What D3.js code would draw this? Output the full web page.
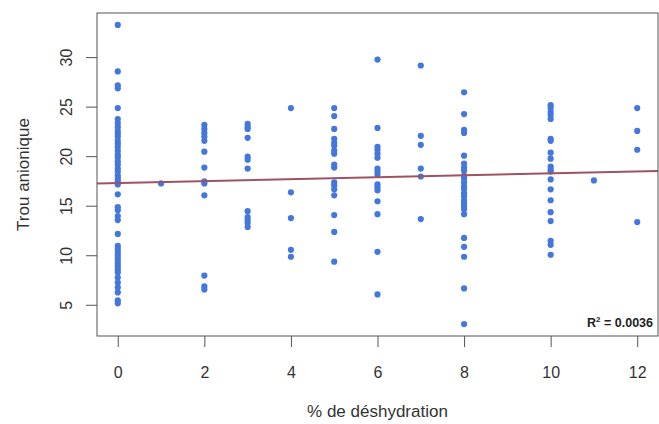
<!DOCTYPE html>
<html>
<head>
<meta charset="utf-8">
<script src="https://cdn.jsdelivr.net/npm/d3@7/dist/d3.min.js"></script>
<style>
  html, body { margin: 0; padding: 0; background: #fff; }
  svg { display: block; font-family: "Liberation Sans", Arial, sans-serif; }
</style>
</head>
<body>
<svg id="chart" width="659" height="424"></svg>
<script>
// ---- Data ----
const dehydrationLevels = [0, 1, 2, 3, 4, 5, 6, 7, 8, 10, 11, 12];
const anionGap_0 = [33.3, 28.6, 27.2, 26.9, 24.9, 23.8, 23.4, 23.0, 22.6, 22.3, 22.0, 21.6, 21.3, 21.0, 20.6, 20.2, 19.9, 19.5, 19.2, 18.8, 18.5, 18.1, 17.8, 17.5, 17.2, 16.2, 14.9, 14.6, 14.0, 13.6, 12.2, 11.0, 10.7, 10.4, 10.1, 9.8, 9.5, 9.2, 8.9, 8.6, 8.3, 7.8, 7.3, 6.8, 6.3, 5.5, 5.2];
const anionGap_1 = [17.3];
const anionGap_2 = [23.2, 22.8, 22.4, 22.0, 21.6, 20.5, 18.9, 17.5, 17.3, 16.1, 8.0, 6.9, 6.6];
const anionGap_3 = [23.3, 23.0, 22.8, 21.9, 20.0, 19.7, 18.8, 14.5, 13.9, 13.6, 13.3, 12.9];
const anionGap_4 = [24.9, 16.4, 13.8, 10.6, 9.9];
const anionGap_5 = [24.9, 24.1, 22.8, 21.8, 21.4, 21.1, 20.6, 20.3, 19.2, 18.9, 17.4, 17.1, 16.7, 16.1, 14.1, 12.4, 9.4];
const anionGap_6 = [29.8, 22.9, 21.0, 20.7, 20.3, 19.9, 18.8, 18.5, 18.2, 17.2, 16.9, 16.6, 15.5, 14.2, 10.4, 6.1];
const anionGap_7 = [29.2, 22.1, 21.2, 18.8, 18.0, 13.7];
const anionGap_8 = [26.5, 24.3, 22.7, 22.4, 20.1, 19.3, 18.9, 18.6, 18.1, 17.8, 17.4, 17.0, 16.7, 16.3, 16.0, 15.6, 15.3, 15.0, 14.7, 14.2, 11.8, 10.9, 9.9, 6.7, 3.1];
const anionGap_10 = [25.2, 24.9, 24.5, 24.2, 23.8, 21.8, 21.6, 20.4, 19.8, 19.0, 18.7, 18.5, 17.7, 16.7, 15.6, 14.4, 13.5, 11.5, 11.1, 10.1];
const anionGap_11 = [17.6];
const anionGap_12 = [24.9, 22.6, 20.7, 13.4];
const anionGapByLevel = [anionGap_0, anionGap_1, anionGap_2, anionGap_3, anionGap_4, anionGap_5, anionGap_6, anionGap_7, anionGap_8, anionGap_10, anionGap_11, anionGap_12];

const xTicks = [0, 2, 4, 6, 8, 10, 12];
const yTicks = [5, 10, 15, 20, 25, 30];
const fitIntercept = 17.34;
const fitSlope = 0.098;
const rSquaredLabel = "0.0036";
const xTitle = "% de déshydration";
const yTitle = "Trou anionique";

// ---- Build points ----
const points = [];
dehydrationLevels.forEach((lvl, i) => {
  anionGapByLevel[i].forEach(v => points.push({ x: lvl, y: v }));
});

// ---- Layout ----
const svg = d3.select("#chart");
const pLeft = 97, pRight = 658, pTop = 13, pBottom = 336;
const x = d3.scaleLinear().domain([-0.48, 12.48]).range([pLeft, pRight]);
const y = d3.scaleLinear().domain([1.9, 34.5]).range([pBottom, pTop]);
const axisColor = "#555";
const textColor = "#333";

svg.append("defs").append("clipPath").attr("id", "clip")
  .append("rect").attr("x", pLeft).attr("y", pTop)
  .attr("width", pRight - pLeft).attr("height", pBottom - pTop);

// Points
svg.append("g").attr("clip-path", "url(#clip)")
  .selectAll("circle").data(points).join("circle")
  .attr("cx", d => x(d.x)).attr("cy", d => y(d.y))
  .attr("r", 3.1)
  .attr("fill", "#4477dd");

// Regression line
const xd = x.domain();
svg.append("line").attr("clip-path", "url(#clip)")
  .attr("x1", x(xd[0])).attr("y1", y(fitIntercept + fitSlope * xd[0]))
  .attr("x2", x(xd[1])).attr("y2", y(fitIntercept + fitSlope * xd[1]))
  .attr("stroke", "#9e5263").attr("stroke-width", 2);

// Box
svg.append("rect")
  .attr("x", pLeft).attr("y", pTop)
  .attr("width", pRight - pLeft).attr("height", pBottom - pTop)
  .attr("fill", "none").attr("stroke", axisColor).attr("stroke-width", 1);

// X axis
const xAxis = d3.axisBottom(x).tickValues(xTicks).tickSize(11).tickPadding(20).tickFormat(d3.format("d"));
const gx = svg.append("g").attr("transform", `translate(0,${pBottom})`).call(xAxis);
gx.select(".domain").remove();
gx.selectAll("line").attr("stroke", axisColor);
gx.selectAll("text").attr("fill", textColor).attr("font-size", 16)
  .attr("font-family", "Liberation Sans, Arial, sans-serif");

// Y axis
const yAxis = d3.axisLeft(y).tickValues(yTicks).tickSize(11).tickPadding(0).tickFormat(d3.format("d"));
const gy = svg.append("g").attr("transform", `translate(${pLeft},0)`).call(yAxis);
gy.select(".domain").remove();
gy.selectAll("line").attr("stroke", axisColor);
gy.selectAll(".tick").attr("transform", null);
gy.selectAll(".tick line").attr("y1", d => y(d)).attr("y2", d => y(d));
gy.selectAll("text")
  .attr("fill", textColor).attr("font-size", 16)
  .attr("font-family", "Liberation Sans, Arial, sans-serif")
  .attr("x", null).attr("dy", null).attr("y", null)
  .attr("text-anchor", "middle")
  .attr("transform", d => `translate(${72 - pLeft},${y(d)}) rotate(-90)`);

// Axis titles
svg.append("text")
  .attr("x", (pLeft + pRight) / 2).attr("y", 417)
  .attr("text-anchor", "middle").attr("fill", textColor)
  .attr("font-size", 17).text(xTitle);

svg.append("text")
  .attr("transform", `translate(29,${(pTop + pBottom) / 2}) rotate(-90)`)
  .attr("text-anchor", "middle").attr("fill", textColor)
  .attr("font-size", 17).text(yTitle);

// R² annotation
const rt = svg.append("text")
  .attr("x", 653).attr("y", 327)
  .attr("text-anchor", "end").attr("fill", "#222")
  .attr("font-size", 12.5).attr("font-weight", "bold");
rt.append("tspan").text("R");
rt.append("tspan").attr("dy", -5).attr("font-size", 8).text("2");
rt.append("tspan").attr("dy", 5).text(" = " + rSquaredLabel);
</script>
</body>
</html>
